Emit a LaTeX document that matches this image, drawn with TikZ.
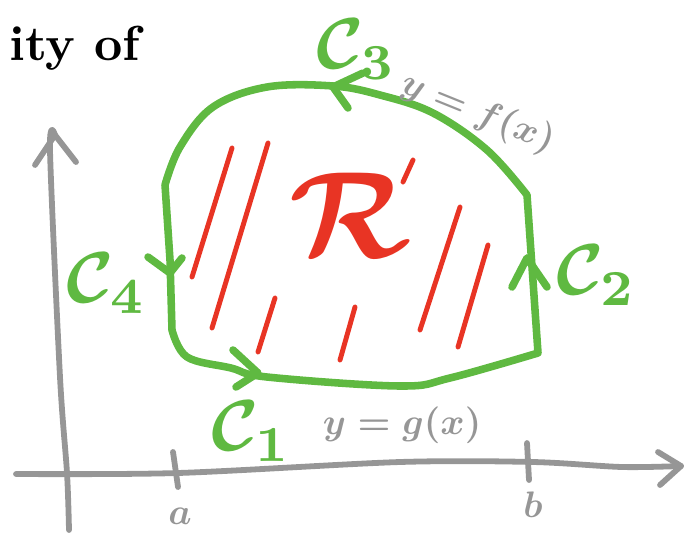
\documentclass[tikz,border=0pt]{standalone}
\usepackage{amsmath}
\usepackage{amssymb}
\usepackage{tikz}

\definecolor{verde}{RGB}{95,185,65}
\definecolor{rojo}{RGB}{232,52,36}
\definecolor{gris}{RGB}{150,150,150}

\begin{document}
\begin{tikzpicture}[x=0.02cm, y=-0.02cm,
    eje/.style={gris, line width=3.3pt, line cap=round, line join=round},
    borde/.style={verde, line width=4.3pt, line cap=round, line join=round},
    rayado/.style={rojo, line width=2.8pt, line cap=round},
    etiqueta/.style={verde, scale=4.1, font=\boldmath, inner sep=0pt},
    texto/.style={gris, scale=2.1, font=\boldmath, inner sep=0pt}]
    \useasboundingbox (0,0) rectangle (695,537);

    % Ejes
    \draw[eje] plot[smooth] coordinates {(69,530) (67,473) (60,377) (50,150) (55,135)};
    \draw[eje] (35,165) -- (55,135) -- (76,162);
    \draw[eje] plot[smooth] coordinates {(16,474) (178,473) (400,462) (533,462) (622,467) (681,466)};
    \draw[eje] (658,452) -- (681,466) -- (660,485);
    \draw[eje] (173,452) -- (178,487);
    \draw[eje] (527,443) -- (529,480);
    \node[texto] (a) at (180,516) {$a$};
    \node[texto] (b) at (533,505) {$b$};

    % Esquinas de la region
    \coordinate (ai) at (165,185);
    \coordinate (bi) at (172,330);
    \coordinate (bd) at (538,353);
    \coordinate (ad) at (527,195);

    % Frontera C1, C2, C3, C4
    \draw[borde] (bd) -- (ad)
        -- plot[smooth, tension=0.6] coordinates {(527,195) (487,150) (433,113) (380,95) (333,86) (267,87) (213,107) (180,147) (165,185)}
        -- (170,260) -- (bi)
        -- plot[smooth, tension=0.6] coordinates {(172,330) (187,357) (231,368) (267,377) (400,386) (450,378) (538,353)};

    % Flechas de orientacion
    \draw[borde] (233,350) -- (258,373) -- (236,387);
    \draw[borde] (512,287) -- (527,258) -- (547,287);
    \draw[borde] (363,73) -- (333,87) -- (348,108);
    \draw[borde] (148,257) -- (170,273) -- (182,258);

    % Rayado de R
    \draw[rayado] (232,148) -- (192,277);
    \draw[rayado] (268,143) -- (212,328);
    \draw[rayado] (275,298) -- (258,352);
    \draw[rayado] (355,307) -- (340,360);
    \draw[rayado] (413,160) -- (403,182);
    \draw[rayado] (460,207) -- (420,330);
    \draw[rayado] (488,245) -- (458,347);
    \node[rojo, scale=7, font=\boldmath, inner sep=0pt] (R) at (350,215) {$\mathcal{R}$};

    % Etiquetas
    \node[etiqueta] (C1) at (252,431) {$\mathcal{C}_1$};
    \node[etiqueta] (C2) at (597,275) {$\mathcal{C}_2$};
    \node[etiqueta] (C3) at (357,49) {$\mathcal{C}_3$};
    \node[etiqueta] (C4) at (107,283) {$\mathcal{C}_4$};
    \node[texto, rotate=-22] (f) at (478,113) {$y=f(x)$};
    \node[texto] (g) at (402,425) {$y=g(x)$};
    \node[scale=2.8, font=\bfseries, inner sep=0pt] (titulo) at (75,48) {ity of};
\end{tikzpicture}
\end{document}
